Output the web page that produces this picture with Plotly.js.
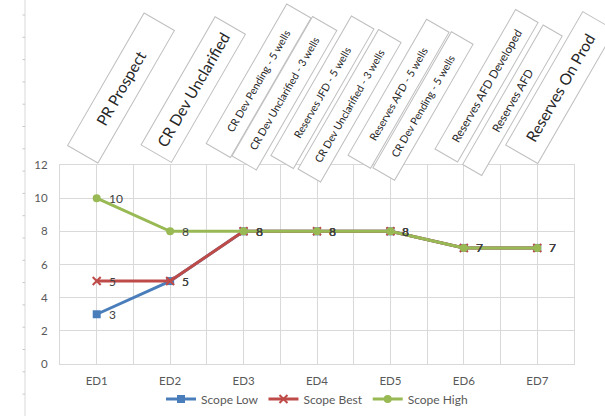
<!DOCTYPE html>
<html>
<head>
<meta charset="utf-8">
<script src="https://cdn.plot.ly/plotly-3.0.1.min.js"></script>
<style>
  html, body { margin: 0; padding: 0; background: #ffffff; }
  #chart { width: 605px; height: 416px; }
</style>
</head>
<body>
<div id="chart"></div>
<script>
// Development stages and scope estimates per stage
const categories = ['ED1', 'ED2', 'ED3', 'ED4', 'ED5', 'ED6', 'ED7'];
const scopeLow  = [3, 5, 8, 8, 8, 7, 7];
const scopeBest = [5, 5, 8, 8, 8, 7, 7];
const scopeHigh = [10, 8, 8, 8, 8, 7, 7];
const seriesNames = ['Scope Low', 'Scope Best', 'Scope High'];

// Maturity labels shown in the slanted call-out boxes above the plot
const stageLabels = [
  'PR Prospect',
  'CR Dev Unclarified',
  'CR Dev Pending - 5 wells',
  'CR Dev Unclarified - 3 wells',
  'Reserves JFD - 5 wells',
  'CR Dev Unclarified - 3 wells',
  'Reserves AFD - 5 wells',
  'CR Dev Pending - 5 wells',
  'Reserves AFD Developed',
  'Reserves AFD',
  'Reserves On Prod'
];

// Call-out box placement in page pixels: [centre x, centre y, length, thickness, font size]
const boxLayout = [
  [121, 88, 152, 34, 15.5],
  [193, 90, 147, 34, 15.5],
  [259, 81, 160, 27, 10.5],
  [284, 93, 160, 27, 10.5],
  [322, 92, 160, 25, 10.5],
  [350, 106, 160, 25, 10.5],
  [399, 94, 156, 25, 10.5],
  [423, 106, 156, 24, 10.5],
  [487, 86, 160, 25, 11.5],
  [512, 100, 160, 21, 11.5],
  [560, 88, 153, 36, 15.5]
];

// Plot area in page pixels
const W = 605, H = 416;
const plotL = 60, plotR = 574, plotT = 165, plotB = 364;
const px2x = (px) => (px - plotL) / (plotR - plotL);
const px2y = (py) => (plotB - py) / (plotB - plotT);

const FONT = 'Lato, "Open Sans", sans-serif';
const xIdx = categories.map((_, i) => i);

const colors = ['#4A7EBB', '#BE4B48', '#98B954'];
const symbols = ['square', 'x-thin', 'circle'];
const allSeries = [scopeLow, scopeBest, scopeHigh];

const traces = allSeries.map((values, s) => ({
  type: 'scatter',
  mode: 'lines+markers',
  name: seriesNames[s],
  x: xIdx,
  y: values,
  line: { color: colors[s], width: 3 },
  marker: { color: colors[s], symbol: symbols[s], size: 8,
            line: { color: colors[s], width: symbols[s] === 'x-thin' ? 2 : 0 } },
  cliponaxis: false,
  hoverinfo: 'skip'
}));

// Value labels to the right of every point
const valueLabels = [];
allSeries.forEach((values) => {
  values.forEach((v, i) => {
    valueLabels.push({
      xref: 'x', yref: 'y', x: xIdx[i], y: v,
      text: String(v), showarrow: false,
      xanchor: 'left', yanchor: 'middle', xshift: 10,
      font: { family: FONT, size: 12, color: '#404040' }
    });
  });
});

const boxAnnotations = stageLabels.map((label, i) => {
  const b = boxLayout[i];
  return {
    xref: 'paper', yref: 'paper',
    x: px2x(b[0]), y: px2y(b[1]),
    xanchor: 'center', yanchor: 'middle',
    text: label,
    showarrow: false,
    textangle: -60,
    width: b[2], height: b[3],
    align: 'center', valign: 'middle',
    bgcolor: '#ffffff',
    bordercolor: '#BFBFBF',
    borderwidth: 1,
    borderpad: 0,
    font: { family: FONT, size: b[4], color: '#262626' }
  };
});

// Thin ruler line with small ticks along the left edge
const shapes = [{
  type: 'line', xref: 'paper', yref: 'paper',
  x0: px2x(25), x1: px2x(25), y0: px2y(0), y1: px2y(H),
  line: { color: '#D9D9D9', width: 1 }
}];
for (let py = 15; py < H; py += 22.3) {
  shapes.push({
    type: 'line', xref: 'paper', yref: 'paper',
    x0: px2x(22.5), x1: px2x(25), y0: px2y(py), y1: px2y(py),
    line: { color: '#C8C8C8', width: 1 }
  });
}

const layout = {
  width: W, height: H,
  margin: { l: plotL, r: W - plotR, t: plotT, b: H - plotB, pad: 0, autoexpand: false },
  paper_bgcolor: '#ffffff',
  plot_bgcolor: '#ffffff',
  font: { family: FONT, color: '#595959', size: 11 },
  showlegend: true,
  legend: {
    orientation: 'h',
    xref: 'paper', x: 0.5, xanchor: 'center',
    yref: 'container', y: (H - 399) / H, yanchor: 'middle',
    bgcolor: 'rgba(0,0,0,0)',
    font: { family: FONT, size: 12, color: '#595959' },
    itemwidth: 30,
    tracegroupgap: 0
  },
  xaxis: {
    range: [-0.5, 6.5],
    tickmode: 'array',
    tickvals: xIdx,
    ticktext: categories,
    showgrid: true,
    gridcolor: '#D9D9D9',
    gridwidth: 1,
    minor: { tickmode: 'linear', tick0: -0.5, dtick: 1, showgrid: true,
             gridcolor: '#D9D9D9', gridwidth: 1, ticks: '' },
    showline: true, mirror: true, linecolor: '#D9D9D9', linewidth: 1,
    zeroline: false,
    ticks: '',
    ticklabelstandoff: 6,
    tickfont: { family: FONT, size: 11.5, color: '#595959' },
    automargin: false,
    fixedrange: true
  },
  yaxis: {
    range: [0, 12],
    tickmode: 'linear', tick0: 0, dtick: 2,
    showgrid: true,
    gridcolor: '#D9D9D9',
    gridwidth: 1,
    showline: true, mirror: true, linecolor: '#D9D9D9', linewidth: 1,
    zeroline: false,
    ticks: '',
    ticklabelstandoff: 9,
    tickfont: { family: FONT, size: 11.5, color: '#595959' },
    automargin: false,
    fixedrange: true
  },
  annotations: boxAnnotations.concat(valueLabels),
  shapes: shapes
};

Plotly.newPlot('chart', traces, layout, { staticPlot: true, displayModeBar: false });
</script>
</body>
</html>
